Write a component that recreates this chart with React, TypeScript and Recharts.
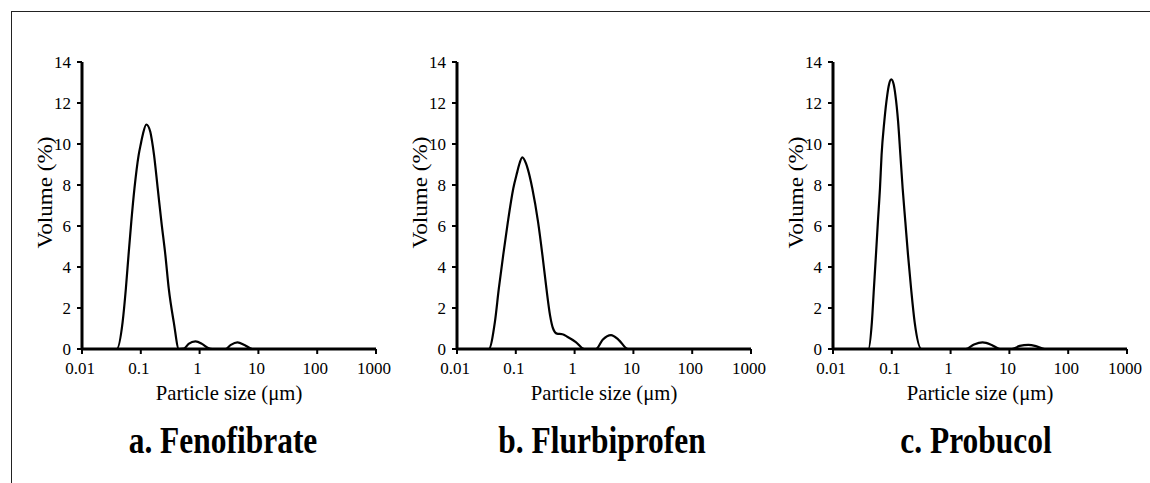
import { LineChart, Line, XAxis, YAxis, Label } from 'recharts';

// particle size (um) and volume (%)
const fenoSize = [0.01, 0.039, 0.049, 0.0557, 0.0618, 0.0689, 0.078, 0.0919, 0.1, 0.109, 0.124, 0.145, 0.155, 0.168, 0.194, 0.224, 0.262, 0.299, 0.364, 0.443, 0.54, 0.65, 0.85, 1.1, 1.4, 1.65, 2.76, 3.4, 4.4, 5.8, 7.9, 1000];
const fenoVol = [0, 0, 1.3, 2.94, 4.57, 6.2, 7.83, 9.46, 10.0, 10.5, 10.95, 10.6, 10.15, 9.46, 7.83, 6.2, 4.57, 2.94, 1.3, 0, 0.02, 0.25, 0.37, 0.25, 0.05, 0, 0, 0.2, 0.32, 0.2, 0, 0];

const flurSize = [0.01, 0.0347, 0.044, 0.0514, 0.061, 0.0733, 0.0906, 0.106, 0.113, 0.129, 0.149, 0.161, 0.191, 0.239, 0.284, 0.332, 0.383, 0.43, 0.5, 0.62, 0.75, 1.05, 1.45, 2.31, 3.0, 4.17, 5.6, 8.05, 1000];
const flurVol = [0, 0, 1.3, 2.94, 4.57, 6.2, 7.83, 8.64, 8.95, 9.35, 9.05, 8.75, 7.83, 6.2, 4.57, 2.94, 1.63, 1.0, 0.75, 0.72, 0.6, 0.34, 0, 0, 0.45, 0.68, 0.45, 0, 0];

const probSize = [0.01, 0.04, 0.0458, 0.0496, 0.0537, 0.058, 0.0629, 0.067, 0.0745, 0.0838, 0.0895, 0.098, 0.108, 0.115, 0.128, 0.14, 0.153, 0.17, 0.189, 0.213, 0.245, 0.319, 1.8, 2.5, 3.5, 5, 6.9, 11, 15, 21, 29, 40, 1000];
const probVol = [0, 0, 1.3, 2.94, 4.57, 6.2, 7.83, 9.46, 11.09, 12.4, 12.89, 13.15, 12.89, 12.4, 11.09, 9.46, 7.83, 6.2, 4.57, 2.94, 1.3, 0, 0, 0.22, 0.32, 0.2, 0, 0, 0.15, 0.2, 0.13, 0, 0];

const xTicks = [0.01, 0.1, 1, 10, 100, 1000];
const yTicks = [0, 2, 4, 6, 8, 10, 12, 14];

const titles = ['a. Fenofibrate', 'b. Flurbiprofen', 'c. Probucol'];

const FONT = '"Liberation Serif", "Times New Roman", serif';

function toRows(size: number[], vol: number[]) {
  return size.map((s, i) => ({ size: s, vol: vol[i] }));
}

const panels = [
  { left: 0, titleX: 223, data: toRows(fenoSize, fenoVol) },
  { left: 375, titleX: 602, data: toRows(flurSize, flurVol) },
  { left: 751, titleX: 976, data: toRows(probSize, probVol) },
];

function XTick(props: any) {
  const { x, y, payload } = props;
  return (
    <text x={x - 2} y={y + 12} textAnchor="middle" fontSize={17} fontFamily={FONT} fill="#000">
      {String(payload.value)}
    </text>
  );
}

function YTick(props: any) {
  const { x, y, payload } = props;
  return (
    <text x={x} y={y} dy={6} textAnchor="end" fontSize={17} fontFamily={FONT} fill="#000">
      {String(payload.value)}
    </text>
  );
}

function XLabel(props: any) {
  const { viewBox } = props;
  const x = viewBox.x + viewBox.width / 2;
  const y = viewBox.y + 51;
  return (
    <text transform={`translate(${x} ${y}) scale(0.94 1)`} textAnchor="middle" fontSize={22} fontFamily={FONT} fill="#000">
      Particle size (μm)
    </text>
  );
}

function YLabel(props: any) {
  const { viewBox } = props;
  const x = viewBox.x + 52;
  const y = viewBox.y + viewBox.height / 2 - 13;
  return (
    <text transform={`translate(${x} ${y}) rotate(-90) scale(1.1 0.95)`} textAnchor="middle" fontSize={21} fontFamily={FONT} fill="#000">
      Volume (%)
    </text>
  );
}

function Panel({ data }: { data: any[] }) {
  return (
    <LineChart width={400} height={420} data={data} margin={{ top: 62, right: 24, bottom: 11, left: 0 }}>
      <XAxis
        dataKey="size"
        type="number"
        scale="log"
        domain={[0.01, 1000]}
        ticks={xTicks}
        allowDataOverflow
        height={60}
        tickSize={5}
        tickMargin={8}
        tick={<XTick />}
        axisLine={{ stroke: '#000', strokeWidth: 3 }}
        tickLine={{ stroke: '#000', strokeWidth: 2 }}
        interval={0}
      >
        <Label content={<XLabel />} />
      </XAxis>
      <YAxis
        type="number"
        domain={[0, 14]}
        ticks={yTicks}
        width={82}
        tickSize={5}
        tickMargin={6}
        tick={<YTick />}
        axisLine={{ stroke: '#000', strokeWidth: 3 }}
        tickLine={{ stroke: '#000', strokeWidth: 2 }}
        interval={0}
      >
        <Label content={<YLabel />} />
      </YAxis>
      <Line type="monotone" dataKey="vol" stroke="#000" strokeWidth={2.2} dot={false} isAnimationActive={false} />
    </LineChart>
  );
}

export default function App() {
  return (
    <div style={{ position: 'absolute', left: 0, top: 0, width: 1150, height: 483, background: '#fff', overflow: 'hidden' }}>
      <div style={{ position: 'absolute', left: 11, top: 11, right: -10, bottom: -10, borderTop: '1.5px solid #222', borderLeft: '1.5px solid #222' }} />
      {panels.map((p, i) => (
        <div key={i}>
          <div style={{ position: 'absolute', left: p.left, top: 0 }}>
            <Panel data={p.data} />
          </div>
          <div
            style={{
              position: 'absolute',
              left: p.titleX - 160,
              width: 320,
              top: 422,
              textAlign: 'center',
              fontFamily: FONT,
              fontWeight: 'bold',
              fontSize: 37,
              lineHeight: '37px',
              color: '#000',
              transform: 'scaleX(0.85)',
            }}
          >
            {titles[i]}
          </div>
        </div>
      ))}
    </div>
  );
}
